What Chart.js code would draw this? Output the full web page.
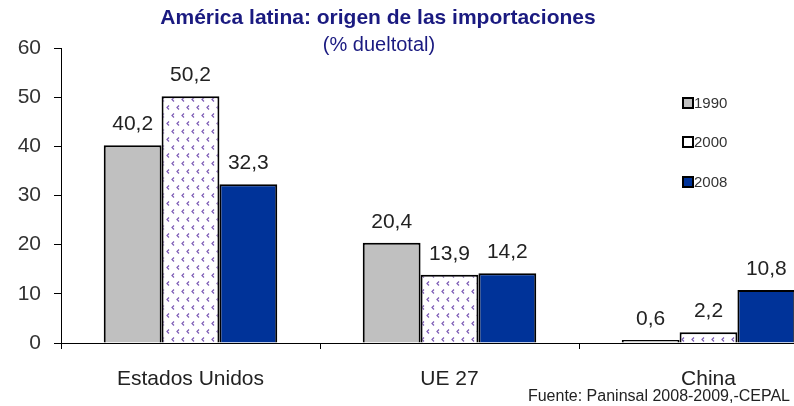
<!DOCTYPE html>
<html>
<head>
<meta charset="utf-8">
<script src="https://cdn.jsdelivr.net/npm/chart.js@4/dist/chart.umd.min.js"></script>
<style>
  html, body { margin: 0; padding: 0; background: #fff; overflow: hidden; width: 794px; height: 406px; }
  #wrap { position: relative; width: 840px; height: 406px; }
</style>
</head>
<body>
<div id="wrap"><canvas id="grafico" width="840" height="406"></canvas></div>
<script>
// datos del gráfico
const paises = ['Estados Unidos', 'UE 27', 'China'];
const anios = ['1990', '2000', '2008'];
const datos1990 = [40.2, 20.4, 0.6];
const datos2000 = [50.2, 13.9, 2.2];
const datos2008 = [32.3, 14.2, 10.8];
const ticksY = [0, 10, 20, 30, 40, 50, 60];

const FUENTE = '"Liberation Sans", Arial, sans-serif';

// patrón punteado para el año 2000
function crearPatron() {
  const c = document.createElement('canvas');
  c.width = 10; c.height = 16;
  const g = c.getContext('2d');
  g.fillStyle = '#fff';
  g.fillRect(0, 0, 10, 16);
  g.strokeStyle = '#7d5cb5';
  g.lineWidth = 1.2;
  g.beginPath();
  g.moveTo(4, 1.5); g.lineTo(2, 3.5); g.lineTo(4, 5.5);
  g.moveTo(9, 9.5); g.lineTo(7, 11.5); g.lineTo(9, 13.5);
  g.stroke();
  return g.createPattern(c, 'repeat');
}
const patron = crearPatron();
const coloresAnio = ['#c0c0c0', patron, '#003399'];

const etiquetas = {
  id: 'etiquetas',
  afterDatasetsDraw(chart) {
    const ctx = chart.ctx;
    ctx.save();
    ctx.font = '21px ' + FUENTE;
    ctx.fillStyle = '#222';
    ctx.textAlign = 'center';
    ctx.textBaseline = 'alphabetic';
    chart.data.datasets.forEach((ds, i) => {
      chart.getDatasetMeta(i).data.forEach((bar, j) => {
        ctx.fillText(ds.data[j].toFixed(1).replace('.', ','), bar.x, bar.y - 15);
      });
    });
    ctx.restore();
  }
};

const textos = {
  id: 'textos',
  afterDraw(chart) {
    const ctx = chart.ctx;
    ctx.save();
    ctx.fillStyle = '#1a1a80';
    ctx.textAlign = 'center';
    ctx.textBaseline = 'middle';
    ctx.font = 'bold 21px ' + FUENTE;
    ctx.fillText('América latina: origen de las importaciones', 378, 18);
    ctx.font = '20px ' + FUENTE;
    ctx.fillText('(% dueltotal)', 379, 45);

    // leyenda
    ctx.textAlign = 'left';
    ctx.font = '15px ' + FUENTE;
    const ys = [103, 142, 182];
    anios.forEach((a, i) => {
      ctx.fillStyle = i === 1 ? '#fff' : coloresAnio[i];
      ctx.fillRect(683, ys[i] - 5, 10, 10);
      ctx.strokeStyle = '#000';
      ctx.lineWidth = 2;
      ctx.strokeRect(683, ys[i] - 5, 10, 10);
      ctx.fillStyle = '#333';
      ctx.fillText(a, 694, ys[i] + 1);
    });

    ctx.textAlign = 'right';
    ctx.font = '16px ' + FUENTE;
    ctx.fillStyle = '#222';
    ctx.fillText('Fuente: Paninsal 2008-2009,-CEPAL', 790, 397);
    ctx.restore();
  }
};

new Chart(document.getElementById('grafico'), {
  type: 'bar',
  data: {
    labels: paises,
    datasets: [
      { label: anios[0], data: datos1990, backgroundColor: coloresAnio[0] },
      { label: anios[1], data: datos2000, backgroundColor: coloresAnio[1] },
      { label: anios[2], data: datos2008, backgroundColor: coloresAnio[2] }
    ].map(d => Object.assign(d, { borderColor: '#000', borderWidth: 2, borderSkipped: 'bottom' }))
  },
  options: {
    responsive: false,
    animation: false,
    layout: { padding: { top: 48, right: 2, left: 0, bottom: 0 } },
    datasets: { bar: { categoryPercentage: 0.67, barPercentage: 1 } },
    plugins: { legend: { display: false }, title: { display: false }, tooltip: { enabled: false } },
    scales: {
      x: {
        offset: true,
        grid: { offset: true, drawOnChartArea: false, drawTicks: true, tickLength: 6, color: '#000' },
        border: { display: true, color: '#000', width: 1 },
        ticks: { font: { family: FUENTE, size: 21 }, color: '#222', padding: 18 },
        afterFit(s) { s.height = 63; }
      },
      y: {
        min: 0, max: 60,
        afterBuildTicks(s) { s.ticks = ticksY.map(v => ({ value: v })); },
        grid: { drawOnChartArea: false, drawTicks: true, tickLength: 7, color: '#000' },
        border: { display: true, color: '#000', width: 1 },
        ticks: { font: { family: FUENTE, size: 21 }, color: '#333', padding: 13 },
        afterFit(s) { s.width = 61; }
      }
    }
  },
  plugins: [etiquetas, textos]
});
</script>
</body>
</html>
